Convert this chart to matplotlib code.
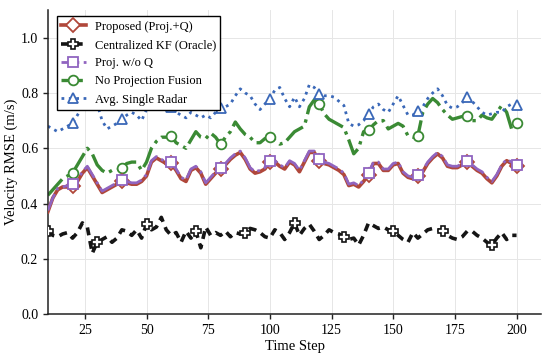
import matplotlib
matplotlib.use("Agg")
import matplotlib.pyplot as plt
import numpy as np

plt.rcParams['font.family'] = ['Liberation Serif', 'DejaVu Serif']
plt.rcParams['mathtext.fontset'] = 'stix'

steps = np.arange(10, 201, 2)

proposed = [0.37, 0.42, 0.45, 0.46, 0.46, 0.465, 0.48, 0.51, 0.53, 0.50,
            0.47, 0.44, 0.45, 0.46, 0.47, 0.48, 0.475, 0.47, 0.47, 0.48,
            0.50, 0.55, 0.565, 0.555, 0.545, 0.545, 0.52, 0.49, 0.48, 0.52,
            0.53, 0.51, 0.47, 0.49, 0.51, 0.525, 0.54, 0.56, 0.575, 0.585,
            0.56, 0.525, 0.51, 0.515, 0.525, 0.55, 0.55, 0.535, 0.525, 0.55,
            0.54, 0.515, 0.55, 0.585, 0.585, 0.555, 0.545, 0.54, 0.53, 0.52,
            0.505, 0.465, 0.47, 0.46, 0.48, 0.505, 0.545, 0.545, 0.52, 0.52,
            0.54, 0.545, 0.51, 0.495, 0.49, 0.50, 0.515, 0.545, 0.565, 0.58,
            0.565, 0.535, 0.53, 0.53, 0.54, 0.55, 0.535, 0.52, 0.51, 0.49,
            0.475, 0.50, 0.535, 0.555, 0.545, 0.535]

proj_no_q = [0.375, 0.42, 0.455, 0.46, 0.465, 0.47, 0.485, 0.515, 0.535, 0.505,
             0.475, 0.445, 0.455, 0.465, 0.475, 0.485, 0.48, 0.475, 0.475, 0.485,
             0.505, 0.555, 0.57, 0.56, 0.55, 0.55, 0.525, 0.495, 0.485, 0.525,
             0.535, 0.515, 0.475, 0.495, 0.515, 0.53, 0.545, 0.565, 0.58, 0.59,
             0.565, 0.53, 0.515, 0.52, 0.53, 0.555, 0.555, 0.54, 0.53, 0.555,
             0.545, 0.52, 0.555, 0.59, 0.59, 0.56, 0.55, 0.545, 0.535, 0.525,
             0.51, 0.47, 0.475, 0.465, 0.485, 0.51, 0.55, 0.55, 0.525, 0.525,
             0.545, 0.55, 0.515, 0.50, 0.495, 0.505, 0.52, 0.55, 0.57, 0.585,
             0.57, 0.54, 0.535, 0.535, 0.545, 0.555, 0.54, 0.525, 0.515, 0.495,
             0.48, 0.505, 0.54, 0.56, 0.55, 0.54]

centralized = [0.30, 0.285, 0.28, 0.29, 0.295, 0.275, 0.295, 0.33, 0.315, 0.22,
               0.26, 0.27, 0.28, 0.26, 0.275, 0.305, 0.30, 0.285, 0.305, 0.275,
               0.325, 0.305, 0.315, 0.35, 0.305, 0.285, 0.295, 0.26, 0.30, 0.275,
               0.30, 0.24, 0.315, 0.285, 0.295, 0.285, 0.30, 0.28, 0.295, 0.29,
               0.295, 0.31, 0.305, 0.295, 0.28, 0.275, 0.305, 0.295, 0.27, 0.295,
               0.33, 0.285, 0.31, 0.325, 0.30, 0.27, 0.285, 0.305, 0.295, 0.29,
               0.28, 0.27, 0.275, 0.25, 0.285, 0.33, 0.32, 0.31, 0.315, 0.305,
               0.30, 0.285, 0.27, 0.26, 0.295, 0.275, 0.29, 0.305, 0.31, 0.305,
               0.30, 0.285, 0.275, 0.27, 0.28, 0.30, 0.30, 0.285, 0.275, 0.26,
               0.25, 0.275, 0.295, 0.27, 0.285, 0.285]

no_projection = [0.43, 0.45, 0.47, 0.49, 0.50, 0.51, 0.54, 0.57, 0.60, 0.58,
                 0.54, 0.52, 0.51, 0.52, 0.52, 0.53, 0.545, 0.55, 0.55, 0.52,
                 0.55, 0.60, 0.625, 0.64, 0.64, 0.645, 0.62, 0.61, 0.60, 0.63,
                 0.66, 0.64, 0.635, 0.655, 0.64, 0.615, 0.64, 0.66, 0.695, 0.67,
                 0.65, 0.64, 0.62, 0.62, 0.635, 0.64, 0.63, 0.615, 0.62, 0.64,
                 0.66, 0.67, 0.68, 0.75, 0.775, 0.76, 0.725, 0.705, 0.695, 0.685,
                 0.675, 0.63, 0.58, 0.60, 0.66, 0.665, 0.685, 0.70, 0.70, 0.67,
                 0.68, 0.69, 0.68, 0.645, 0.64, 0.645, 0.73, 0.76, 0.78, 0.765,
                 0.74, 0.72, 0.705, 0.71, 0.715, 0.715, 0.70, 0.70, 0.72, 0.71,
                 0.705, 0.73, 0.755, 0.73, 0.67, 0.69]

single_radar = [0.68, 0.67, 0.66, 0.67, 0.68, 0.69, 0.72, 0.75, 0.77, 0.78,
                0.76, 0.70, 0.67, 0.68, 0.69, 0.705, 0.72, 0.73, 0.72, 0.70,
                0.74, 0.76, 0.78, 0.80, 0.78, 0.75, 0.73, 0.72, 0.71, 0.73,
                0.72, 0.71, 0.72, 0.71, 0.73, 0.745, 0.75, 0.76, 0.79, 0.815,
                0.80, 0.79, 0.76, 0.74, 0.76, 0.78, 0.81, 0.82, 0.78, 0.75,
                0.785, 0.75, 0.78, 0.83, 0.82, 0.795, 0.79, 0.79, 0.785, 0.77,
                0.755, 0.69, 0.68, 0.685, 0.70, 0.725, 0.75, 0.76, 0.74, 0.73,
                0.76, 0.79, 0.755, 0.72, 0.72, 0.735, 0.75, 0.78, 0.80, 0.815,
                0.79, 0.755, 0.745, 0.75, 0.765, 0.785, 0.77, 0.75, 0.73, 0.72,
                0.725, 0.73, 0.73, 0.75, 0.76, 0.755]

fig = plt.figure(figsize=(5.5, 3.59), dpi=100)
ax = fig.add_axes([0.087, 0.125, 0.897, 0.847])

mk = dict(markersize=7, markerfacecolor='white', markeredgewidth=1.3)

ax.plot(steps, proposed, color='#b0473a', lw=2.6, ls='-', marker='D',
        markevery=(5, 10), label='Proposed (Proj.+Q)', zorder=3, **mk)
ax.plot(steps, centralized, color='#151515', lw=2.6, ls=(0, (2.2, 1.6)), marker='P',
        markevery=(0, 10), label='Centralized KF (Oracle)', zorder=3,
        markeredgecolor='#151515', markersize=7.5, markerfacecolor='white',
        markeredgewidth=1.2)
ax.plot(steps, proj_no_q, color='#9064c0', lw=2.0, ls='-.', marker='s',
        markevery=(5, 10), label='Proj. w/o Q', zorder=4, **mk)
ax.plot(steps, no_projection, color='#3a8a34', lw=2.4, ls='-.', marker='o',
        markevery=(5, 10), label='No Projection Fusion', zorder=2, **mk)
ax.plot(steps, single_radar, color='#3a68b8', lw=2.0, ls=':', marker='^',
        markevery=(5, 10), label='Avg. Single Radar', zorder=2, **mk)

ax.set_xlim(10, 210)
ax.set_ylim(0, 1.1)
ax.set_xticks([25, 50, 75, 100, 125, 150, 175, 200])
ax.set_yticks([0.0, 0.2, 0.4, 0.6, 0.8, 1.0])
ax.set_yticklabels(['0.0', '0.2', '0.4', '0.6', '0.8', '1.0'])
ax.tick_params(labelsize=10, length=3.5, width=1, color='#222222')
ax.grid(True, color='#e6e6e6', lw=0.7)
ax.set_axisbelow(True)
for side in ['top', 'right']:
    ax.spines[side].set_visible(False)
for side in ['left', 'bottom']:
    ax.spines[side].set_linewidth(1.1)
    ax.spines[side].set_color('#222222')

ax.set_xlabel('Time Step', fontsize=10.5, labelpad=2)
ax.set_ylabel('Velocity RMSE (m/s)', fontsize=10.5, labelpad=2)

leg = ax.legend(loc='upper left', bbox_to_anchor=(0.005, 1.0), fontsize=9,
                frameon=True, fancybox=False, edgecolor='black', framealpha=1,
                handlelength=2.0, borderpad=0.35, labelspacing=0.5,
                handletextpad=0.7)
leg.get_frame().set_linewidth(1.0)

fig.savefig('out.png', dpi=100)
